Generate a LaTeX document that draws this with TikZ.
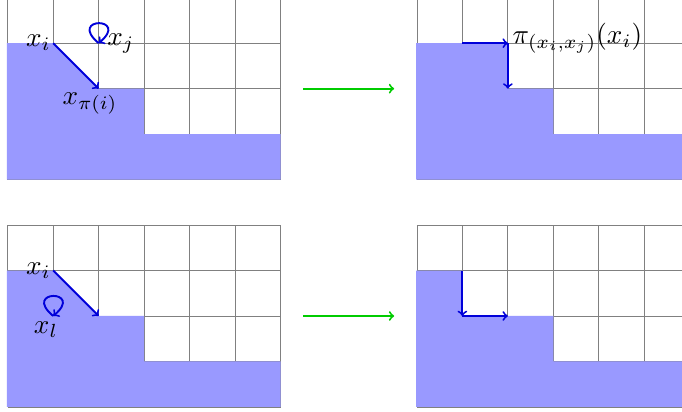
\documentclass[tikz,border=0pt]{standalone}
\begin{document}
\begin{tikzpicture}[
  gridline/.style={draw=gray, line width=0.5pt},
  region/.style={fill=blue!40, draw=none},
  move/.style={->, draw=blue!85!black, line width=1.2pt},
  trans/.style={->, draw=green!80!black, line width=1.2pt},
  lab/.style={inner sep=0pt, scale=1.7}
]
\useasboundingbox (0,0) rectangle (15,9.06);
\clip (0,0) rectangle (15,9.06);

% top left panel
\begin{scope}[shift={(0.17,5.11)}]
  \draw[gridline] (0,0) grid (6,4);
  \fill[region] (-0.02,0) -- (-0.02,3) -- (1,3) -- (2,2) -- (3,2) -- (3,1) -- (6,1) -- (6,0) -- cycle;
  \coordinate (tli) at (1,3);
  \coordinate (tlp) at (2,2);
  \coordinate (tlj) at (2,3);
  \coordinate (tlr) at (6.5,2);
  \draw[move] (tli) -- (tlp);
  \draw[move] (tlj) .. controls +(140:0.91) and +(40:0.91) .. (tlj);
  \node[lab] (tlxi) at (0.675,3.01) {$x_i$};
  \node[lab] (tlxj) at (2.49,3.0) {$x_j$};
  \node[lab] (tlxp) at (1.81,1.67) {$x_{\pi(i)}$};
\end{scope}

% top right panel
\begin{scope}[shift={(9.17,5.11)}]
  \draw[gridline] (0,0) grid (6,4);
  \fill[region] (-0.02,0) -- (-0.02,3) -- (2,3) -- (2,2) -- (3,2) -- (3,1) -- (6,1) -- (6,0) -- cycle;
  \coordinate (tra) at (1,3);
  \coordinate (trb) at (2,3);
  \coordinate (trc) at (2,2);
  \coordinate (trl) at (-0.5,2);
  \draw[move] (tra) -- (trb);
  \draw[move] (trb) -- (trc);
  \node[lab] (trpi) at (3.53,3.11) {$\pi_{(x_i,x_j)}(x_i)$};
\end{scope}

% bottom left panel
\begin{scope}[shift={(0.17,0.11)}]
  \draw[gridline] (0,0) grid (6,4);
  \fill[region] (-0.02,0) -- (-0.02,3) -- (1,3) -- (2,2) -- (3,2) -- (3,1) -- (6,1) -- (6,0) -- cycle;
  \coordinate (bli) at (1,3);
  \coordinate (blp) at (2,2);
  \coordinate (bll) at (1,2);
  \coordinate (blr) at (6.5,2);
  \draw[move] (bli) -- (blp);
  \draw[move] (bll) .. controls +(140:0.91) and +(40:0.91) .. (bll);
  \node[lab] (blxi) at (0.675,3.0) {$x_i$};
  \node[lab] (blxl) at (0.84,1.69) {$x_l$};
\end{scope}

% bottom right panel
\begin{scope}[shift={(9.17,0.11)}]
  \draw[gridline] (0,0) grid (6,4);
  \fill[region] (-0.02,0) -- (-0.02,3) -- (1,3) -- (1,2) -- (3,2) -- (3,1) -- (6,1) -- (6,0) -- cycle;
  \coordinate (bra) at (1,3);
  \coordinate (brb) at (1,2);
  \coordinate (brc) at (2,2);
  \coordinate (brl) at (-0.5,2);
  \draw[move] (bra) -- (brb);
  \draw[move] (brb) -- (brc);
\end{scope}

\draw[trans] (tlr) -- (trl);
\draw[trans] (blr) -- (brl);
\end{tikzpicture}
\end{document}
